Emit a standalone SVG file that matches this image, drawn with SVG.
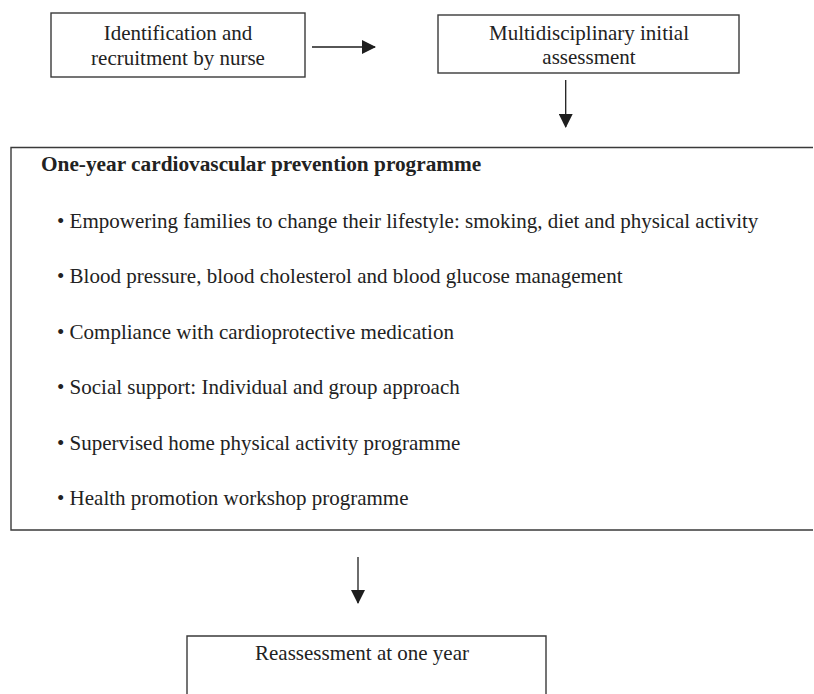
<svg xmlns="http://www.w3.org/2000/svg" width="814" height="694" viewBox="0 0 814 694">
  <defs>
    <marker id="arrow" viewBox="0 0 14 14" refX="13" refY="7" markerWidth="14" markerHeight="14" markerUnits="userSpaceOnUse" orient="auto">
      <path d="M0,0 L14,7 L0,14 Z" fill="#1e1e1e"/>
    </marker>
    <style>
      .box { fill: #ffffff; stroke: #3a3a3a; stroke-width: 1.4; }
      .edge { fill: none; stroke: #1e1e1e; stroke-width: 1.3; marker-end: url(#arrow); }
      .t { font-family: "Liberation Serif", "Times New Roman", serif; font-size: 21px; fill: #222222; }
      .c { text-anchor: middle; }
      .b { font-weight: bold; font-size: 21.3px; }
    </style>
  </defs>
  <rect width="814" height="694" fill="#ffffff"/>

  <g id="recruitment">
    <rect class="box" x="51" y="13" width="254" height="64"/>
    <text class="t c" x="178" y="40">Identification and</text>
    <text class="t c" x="178" y="65">recruitment by nurse</text>
  </g>

  <g id="initial-assessment">
    <rect class="box" x="438" y="15" width="301" height="58"/>
    <text class="t c" x="589" y="40">Multidisciplinary initial</text>
    <text class="t c" x="589" y="64">assessment</text>
  </g>

  <g id="programme">
    <!-- open on the right: top, left and bottom sides only -->
    <path class="box" fill="none" d="M813,147.5 H11 V530 H813"/>
    <text class="t b" x="41" y="171">One-year cardiovascular prevention programme</text>
    <text class="t" x="57" y="228">• Empowering families to change their lifestyle: smoking, diet and physical activity</text>
    <text class="t" x="57" y="283">• Blood pressure, blood cholesterol and blood glucose management</text>
    <text class="t" x="57" y="339">• Compliance with cardioprotective medication</text>
    <text class="t" x="57" y="394">• Social support: Individual and group approach</text>
    <text class="t" x="57" y="450">• Supervised home physical activity programme</text>
    <text class="t" x="57" y="505">• Health promotion workshop programme</text>
  </g>

  <g id="reassessment">
    <path class="box" d="M187,694 V636 H546 V694"/>
    <text class="t c" x="362" y="660">Reassessment at one year</text>
  </g>

  <g id="connectors">
    <line class="edge" x1="312" y1="47" x2="375" y2="47"/>
    <line class="edge" x1="565.7" y1="80" x2="565.7" y2="127"/>
    <line class="edge" x1="358" y1="557" x2="358" y2="603"/>
  </g>
</svg>
